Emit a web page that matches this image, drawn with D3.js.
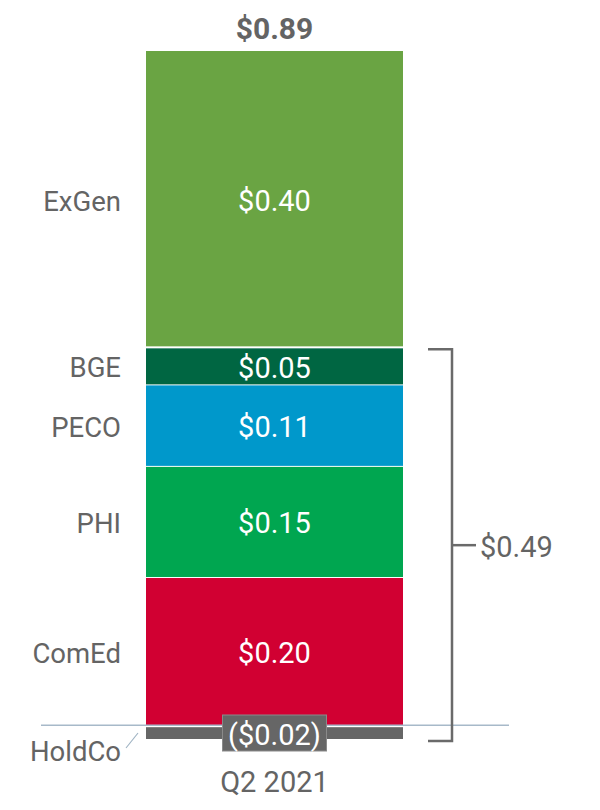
<!DOCTYPE html>
<html>
<head>
<meta charset="utf-8">
<script src="https://cdn.jsdelivr.net/npm/d3@7/dist/d3.min.js"></script>
<style>
  html, body { margin: 0; padding: 0; background: #fff; }
  svg { display: block; }
  text { font-family: Roboto, "Liberation Sans", Arial, sans-serif; }
</style>
</head>
<body>
<svg id="chart" width="600" height="810"></svg>
<script>
// ---- data ----
const period = ["Q2 2021"];
const segments = ["ComEd", "PHI", "PECO", "BGE", "ExGen"]; // bottom to top
const segmentValues = [0.20, 0.15, 0.11, 0.05, 0.40];
const segmentColors = ["#d10032", "#00a650", "#0098cb", "#006642", "#6aa443"];
const holdcoLabel = "HoldCo";
const holdcoValue = -0.02;
const totalValue = 0.89;
const utilitiesTotal = 0.49;

const fmt = v => v < 0 ? "($" + Math.abs(v).toFixed(2) + ")" : "$" + v.toFixed(2);

const svg = d3.select("#chart");
const textColor = "#646464";

const posSum = d3.sum(segmentValues);
const y = d3.scaleLinear().domain([holdcoValue, posSum]).range([740, 51]);
const x = d3.scaleBand().domain(period).range([146, 403]).padding(0);

// stacked data
let cum = 0;
const stack = segments.map((name, i) => {
  const d = { name, value: segmentValues[i], color: segmentColors[i], y0: cum, y1: cum + segmentValues[i], i };
  cum += segmentValues[i];
  return d;
});
const topIndex = stack.length - 1;

const g = svg.append("g");

g.selectAll("rect.seg")
  .data(stack)
  .join("rect")
  .attr("class", "seg")
  .attr("x", x(period[0]))
  .attr("width", x.bandwidth())
  .attr("y", d => y(d.y1) + (d.i === topIndex ? 0 : 1))
  .attr("height", d => y(d.y0) - y(d.y1) - 1)
  .attr("fill", d => d.color);

// HoldCo bar
g.append("rect")
  .attr("x", x(period[0]))
  .attr("width", x.bandwidth())
  .attr("y", y(0) + 2)
  .attr("height", y(holdcoValue) - y(0) - 3)
  .attr("fill", "#666666");

// baseline
g.append("line")
  .attr("x1", 41).attr("x2", 509)
  .attr("y1", y(0)).attr("y2", y(0))
  .attr("stroke", "#a7b9c9").attr("stroke-width", 1.5);

// segment value labels
const cx = x(period[0]) + x.bandwidth() / 2;
g.selectAll("text.val")
  .data(stack)
  .join("text")
  .attr("class", "val")
  .attr("x", cx)
  .attr("y", d => (y(d.y0) + y(d.y1)) / 2 + 2)
  .attr("text-anchor", "middle")
  .attr("dominant-baseline", "central")
  .attr("fill", "#fff")
  .attr("font-size", 29)
  .text(d => fmt(d.value));

// left category labels
g.selectAll("text.cat")
  .data(stack)
  .join("text")
  .attr("class", "cat")
  .attr("x", 121)
  .attr("y", d => (y(d.y0) + y(d.y1)) / 2 + 2)
  .attr("text-anchor", "end")
  .attr("dominant-baseline", "central")
  .attr("fill", textColor)
  .attr("font-size", 27.5)
  .text(d => d.name);

// HoldCo label box
const boxW = 104, boxH = 36;
g.append("rect")
  .attr("x", cx - boxW / 2)
  .attr("y", 715)
  .attr("width", boxW).attr("height", boxH)
  .attr("fill", "#666666")
  .attr("stroke", "#8a8a8a").attr("stroke-width", 1);
g.append("text")
  .attr("x", cx).attr("y", 735)
  .attr("text-anchor", "middle")
  .attr("dominant-baseline", "central")
  .attr("fill", "#fff")
  .attr("font-size", 29)
  .text(fmt(holdcoValue));

// HoldCo category label + leader
g.append("text")
  .attr("x", 121).attr("y", 751)
  .attr("text-anchor", "end")
  .attr("dominant-baseline", "central")
  .attr("fill", textColor)
  .attr("font-size", 27.5)
  .text(holdcoLabel);
g.append("line")
  .attr("x1", 126).attr("y1", 748).attr("x2", 138).attr("y2", 733)
  .attr("stroke", "#9fb3c3").attr("stroke-width", 1.2);

// total label
g.append("text")
  .attr("x", cx).attr("y", 39)
  .attr("text-anchor", "middle")
  .attr("fill", textColor)
  .attr("font-size", 30)
  .attr("font-weight", "bold")
  .text(fmt(totalValue));

// bracket for utilities
const bTop = y(posSum - segmentValues[topIndex]) + 2;
const bBot = y(holdcoValue) + 1;
const bx = 452;
g.append("path")
  .attr("d", `M428,${bTop}H${bx}V${bBot}H428`)
  .attr("fill", "none")
  .attr("stroke", "#6a6a6a").attr("stroke-width", 2.5);
const bMid = (bTop + bBot) / 2;
g.append("line")
  .attr("x1", bx).attr("x2", 476)
  .attr("y1", bMid).attr("y2", bMid)
  .attr("stroke", "#6a6a6a").attr("stroke-width", 2.5);
g.append("text")
  .attr("x", 480).attr("y", bMid + 2)
  .attr("dominant-baseline", "central")
  .attr("fill", textColor)
  .attr("font-size", 29)
  .text(fmt(utilitiesTotal));

// x axis label
g.append("text")
  .attr("x", cx).attr("y", 792)
  .attr("text-anchor", "middle")
  .attr("fill", textColor)
  .attr("font-size", 29)
  .text(period[0]);
</script>
</body>
</html>
